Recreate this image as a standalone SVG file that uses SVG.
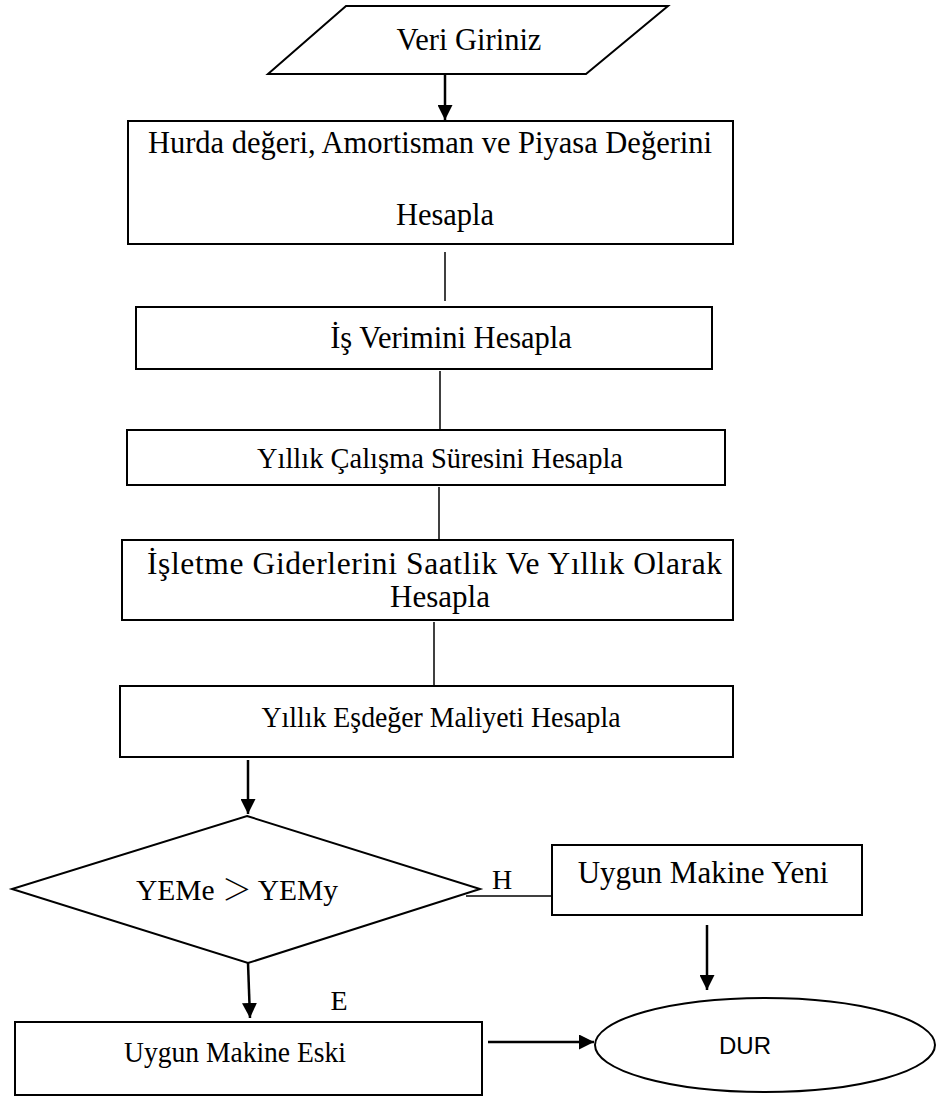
<svg xmlns="http://www.w3.org/2000/svg" width="938" height="1097" viewBox="0 0 938 1097">
<defs>
<marker id="ah" viewBox="0 0 10 10" refX="10" refY="5" markerWidth="6" markerHeight="6" markerUnits="strokeWidth" orient="auto">
<path d="M0,0 L10,5 L0,10 z" fill="#000"/>
</marker>
<style>
.box{fill:#fff;stroke:#000;stroke-width:2}
.t{font-family:"Liberation Serif","Times New Roman",serif;font-size:28px;fill:#000;text-anchor:middle}
.l{font-size:30.5px}
.m{font-size:29.5px}
.s{font-family:"Liberation Sans",Arial,sans-serif;font-size:24px;fill:#000;text-anchor:middle}
.ln{fill:none;stroke:#000;stroke-width:1.5}
.ar{fill:none;stroke:#000;stroke-width:2.5;marker-end:url(#ah)}
</style>
</defs>
<rect width="938" height="1097" fill="#fff"/>
<g id="connectors">
<line class="ar" x1="445" y1="74" x2="445" y2="120"/>
<line class="ln" x1="445" y1="252" x2="445" y2="301"/>
<line class="ln" x1="440" y1="371" x2="440" y2="429"/>
<line class="ln" x1="439" y1="487" x2="439" y2="539"/>
<line class="ln" x1="434" y1="622" x2="434" y2="685"/>
<line class="ar" x1="248" y1="760" x2="248" y2="814"/>
<line class="ar" x1="248" y1="963" x2="250" y2="1018"/>
<polyline class="ln" points="466,896 552,896"/>
<line class="ar" x1="707" y1="925" x2="707" y2="990"/>
<line class="ar" x1="488" y1="1042" x2="594" y2="1042"/>
<text class="t" x="502" y="889">H</text>
<text class="t" x="339" y="1010">E</text>
</g>
<g id="n-input">
<polygon class="box" points="346,6 668,6 586,74 268,74"/>
<text class="t l" x="469" y="50">Veri Giriniz</text>
</g>
<g id="n-hurda">
<rect class="box" x="128" y="121" width="605" height="123"/>
<text class="t l" x="430" y="153">Hurda değeri, Amortisman ve Piyasa Değerini</text>
<text class="t l" x="445" y="225">Hesapla</text>
</g>
<g id="n-is">
<rect class="box" x="136" y="307" width="576" height="62"/>
<text class="t l" x="451" y="348">İş Verimini Hesapla</text>
</g>
<g id="n-calisma">
<rect class="box" x="127" y="430" width="598" height="55"/>
<text class="t m" x="440" y="468" textLength="366" lengthAdjust="spacingAndGlyphs">Yıllık Çalışma Süresini Hesapla</text>
</g>
<g id="n-isletme">
<rect class="box" x="122" y="540" width="611" height="80"/>
<text class="t" x="434.5" y="574" style="font-size:31.5px" textLength="575" lengthAdjust="spacing">İşletme Giderlerini Saatlik Ve Yıllık Olarak</text>
<text class="t" x="440" y="607" style="font-size:31px">Hesapla</text>
</g>
<g id="n-yem">
<rect class="box" x="120" y="686" width="613" height="71"/>
<text class="t m" x="441" y="727" textLength="359" lengthAdjust="spacingAndGlyphs">Yıllık Eşdeğer Maliyeti Hesapla</text>
</g>
<g id="n-decision">
<polygon class="box" points="247,816 480,889 248,963 12,889"/>
<text class="t" x="237" y="900" style="font-size:29.5px">YEMe <tspan style="font-family:'Noto Sans CJK SC',sans-serif;font-weight:300">＞</tspan> YEMy</text>
</g>
<g id="n-yeni">
<rect class="box" x="552" y="845" width="310" height="70"/>
<text class="t" x="703" y="883" style="font-size:31px">Uygun Makine Yeni</text>
</g>
<g id="n-eski">
<rect class="box" x="15" y="1022" width="467" height="73"/>
<text class="t m" x="235" y="1062" textLength="222" lengthAdjust="spacingAndGlyphs">Uygun Makine Eski</text>
</g>
<g id="n-dur">
<ellipse class="box" cx="765" cy="1045" rx="170" ry="47"/>
<text class="s" x="745" y="1054">DUR</text>
</g>
</svg>
